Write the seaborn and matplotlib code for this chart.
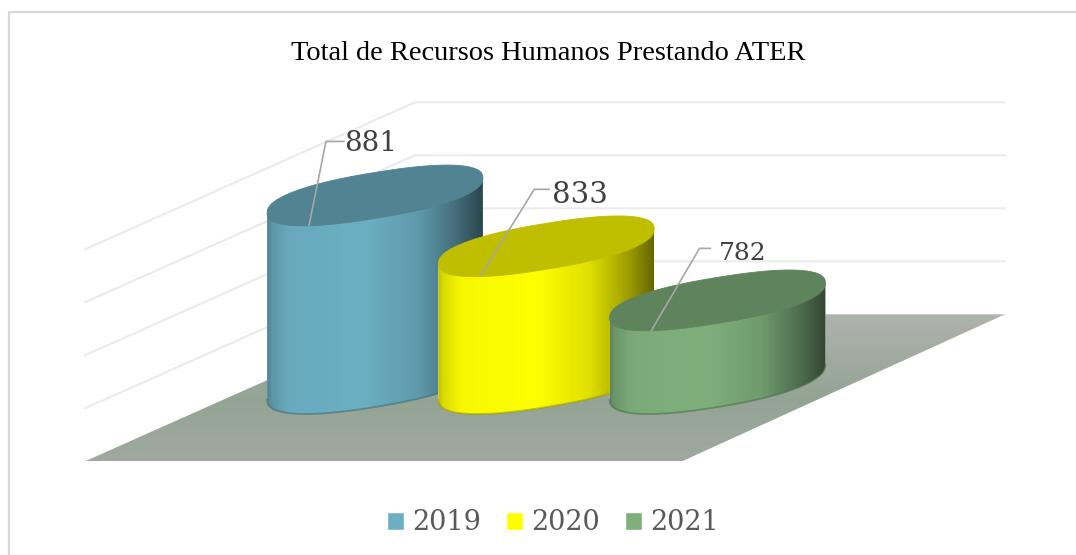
import numpy as np
import pandas as pd
import matplotlib
matplotlib.use("Agg")
import matplotlib.pyplot as plt
from matplotlib.patches import Polygon
import seaborn as sns

anios = ["2019", "2020", "2021"]
totales = [881, 833, 782]
colores = ["#6cafc3", "#ffff00", "#7fb07c"]
etiquetas = ["881", "833", "782"]
niveles = [750, 800, 850, 900]
piso = 700

titulo = "Total de Recursos Humanos Prestando ATER"

W, H = 1076, 555
sns.set_theme(style="white")
plt.rcParams["font.family"] = ["Liberation Serif", "DejaVu Serif"]

fig = plt.figure(figsize=(W / 100, H / 100), dpi=100)
ax = fig.add_axes([0, 0, 1, 1])
df = pd.DataFrame({"anio": anios, "total": totales})
sns.barplot(data=df, x="anio", y="total", hue="anio", palette=colores, saturation=1,
            width=1.26, dodge=False, legend=True, ax=ax)

# eje ajustado para que el plano de los cilindros caiga donde va en la imagen
paso_x = 171.25
px_valor = 1.06
base_valor = 705
base_px = 382
ax.set_xlim(-375 / paso_x, (W - 375) / paso_x)
ax.set_ylim(base_valor - (H - base_px) / px_valor, base_valor + base_px / px_valor)
ax.axis("off")


def a_datos(x, y):
    # de pixeles de la imagen (y hacia abajo) a datos
    p = np.column_stack([np.ravel(x), H - np.ravel(y)])
    return ax.transData.inverted().transform(p)


def a_px(x, v):
    p = ax.transData.transform(np.column_stack([np.ravel(x), np.ravel(v)]))
    return p[:, 0], H - p[:, 1]


def gradiente(colores_g, extent_px, vertical, poly, z, pos=None):
    c = np.array([matplotlib.colors.to_rgb(k) for k in colores_g])
    pos = np.linspace(0, 1, len(c)) if pos is None else pos
    t = np.linspace(0, 1, 256)
    img = np.column_stack([np.interp(t, pos, c[:, i]) for i in range(3)])
    img = img[:, None, :] if vertical else img[None, :, :]
    x0, x1, y0, y1 = extent_px
    (a, b), (c2, d) = a_datos([x0, x1], [y1, y0])
    im = ax.imshow(img, extent=(a, c2, b, d), origin="upper", aspect="auto",
                   interpolation="bilinear", zorder=z)
    im.set_clip_path(poly)


def redondo(u):
    # elipse un poco mas llena en los extremos, como la del original
    return np.sign(u) * np.abs(u) ** 0.85


# paredes y piso
def pared_y(v):
    return a_px([0], [v])[1][0] - 73


for v in niveles:
    y = pared_y(v)
    ax.plot(*a_datos([85, 415, 1005], [y + 147, y, y]).T, color="#ebebeb", lw=1.5, zorder=1)

y_piso = pared_y(piso)
piso_poly = Polygon(a_datos([85, 415, 1005, 682], [y_piso + 147, y_piso, y_piso, y_piso + 147]),
                    closed=True, transform=ax.transData, fc="none", ec="none")
ax.add_patch(piso_poly)
gradiente(["#b0b3ae", "#93a494", "#a0a99f"], (85, 1005, y_piso, y_piso + 147), True, piso_poly, 2,
          pos=[0, 0.58, 1])

# cilindros a partir de las barras
t = np.linspace(0, 2 * np.pi, 200)
inclina = 17.5
semi_tapa = 23
semi_fondo = 25
pos_g = [0, 0.02, 0.1, 0.45, 0.7, 0.88, 1]
luz = np.array([0.75, 0.85, 0.97, 1, 0.88, 0.62, 0.4])
barras = [c[0] for c in ax.containers]
centros = []
for i, barra in enumerate(barras):
    base = np.array(matplotlib.colors.to_rgb(colores[i]))
    xc = barra.get_x() + barra.get_width() / 2
    cx, cy = a_px([xc], [barra.get_height()])
    cx, cy = cx[0], cy[0]
    _, by = a_px([xc], [base_valor])
    by = by[0]
    x0, _ = a_px([barra.get_x()], [base_valor])
    a = cx - x0[0]
    centros.append((cx, cy))

    frente = np.linspace(np.pi, 2 * np.pi, 80)
    fx = cx + a * redondo(np.cos(frente))
    abajo_y = by - inclina * redondo(np.cos(frente)) - semi_fondo * redondo(np.sin(frente))
    xs = np.r_[fx[0], fx[-1], fx[::-1]]
    ys = np.r_[cy + inclina, cy - inclina, abajo_y[::-1]]
    cuerpo = Polygon(a_datos(xs, ys), closed=True, transform=ax.transData, fc="none", ec="none")
    ax.add_patch(cuerpo)
    barra.set_clip_path(cuerpo)
    barra.set_zorder(3 + i)
    gradiente([tuple(base * k) for k in luz], (cx - a, cx + a, cy - 40, by + 40), False, cuerpo, 3 + i,
              pos=pos_g)
    ax.plot(*a_datos(fx, abajo_y).T, color=base * 0.6, lw=1.3, alpha=0.55, zorder=3 + i)

    tapa_x = cx + a * redondo(np.cos(t))
    tapa_y = cy - inclina * redondo(np.cos(t)) - semi_tapa * redondo(np.sin(t))
    ax.fill(*a_datos(tapa_x, tapa_y).T, color=base * 0.75, lw=0.6, zorder=3 + i)

# etiquetas con linea guia
ancla = (-66, 30)
codos = [(-49, -54), (-12, -57), (-18, -52)]
fin_codo = [18, 15, 11]
texto_dx = [18.5, 18, 19.5]
texto_dy = [2, 6, 5]
tamanos = [20, 21, 18]
for i, (cx, cy) in enumerate(centros):
    xa, ya = cx + ancla[0], cy + ancla[1]
    xc, yc = cx + codos[i][0], cy + codos[i][1]
    xf = xc + fin_codo[i]
    ax.plot(*a_datos([xa, xc, xf], [ya, yc, yc]).T, color="#a6a6a6", lw=1.2, zorder=10)
    xt, yt = a_datos([xc + texto_dx[i]], [yc + texto_dy[i]])[0]
    ax.text(xt, yt, etiquetas[i], family="DejaVu Serif", fontsize=tamanos[i], color="#404040",
            ha="left", va="center", zorder=11)

# titulo, leyenda y marco
fig.text(548 / W, 1 - 54 / H, titulo, fontsize=20.4, color="black", ha="center", va="center")
handles, labels = ax.get_legend_handles_labels()
ax.legend(handles, labels, loc="center", bbox_to_anchor=(553 / W, 1 - 523 / H), ncol=3, frameon=False,
          prop={"family": "DejaVu Serif", "size": 19.5}, labelcolor="#595959",
          handlelength=0.62, handleheight=0.62, handletextpad=0.3, columnspacing=0.92)
ax.plot(*a_datos([8.5, 8.5, W], [H, 12, 12]).T, color="#d9d9d9", lw=1.6, zorder=20, clip_on=False)

fig.savefig("out.png", dpi=100)
